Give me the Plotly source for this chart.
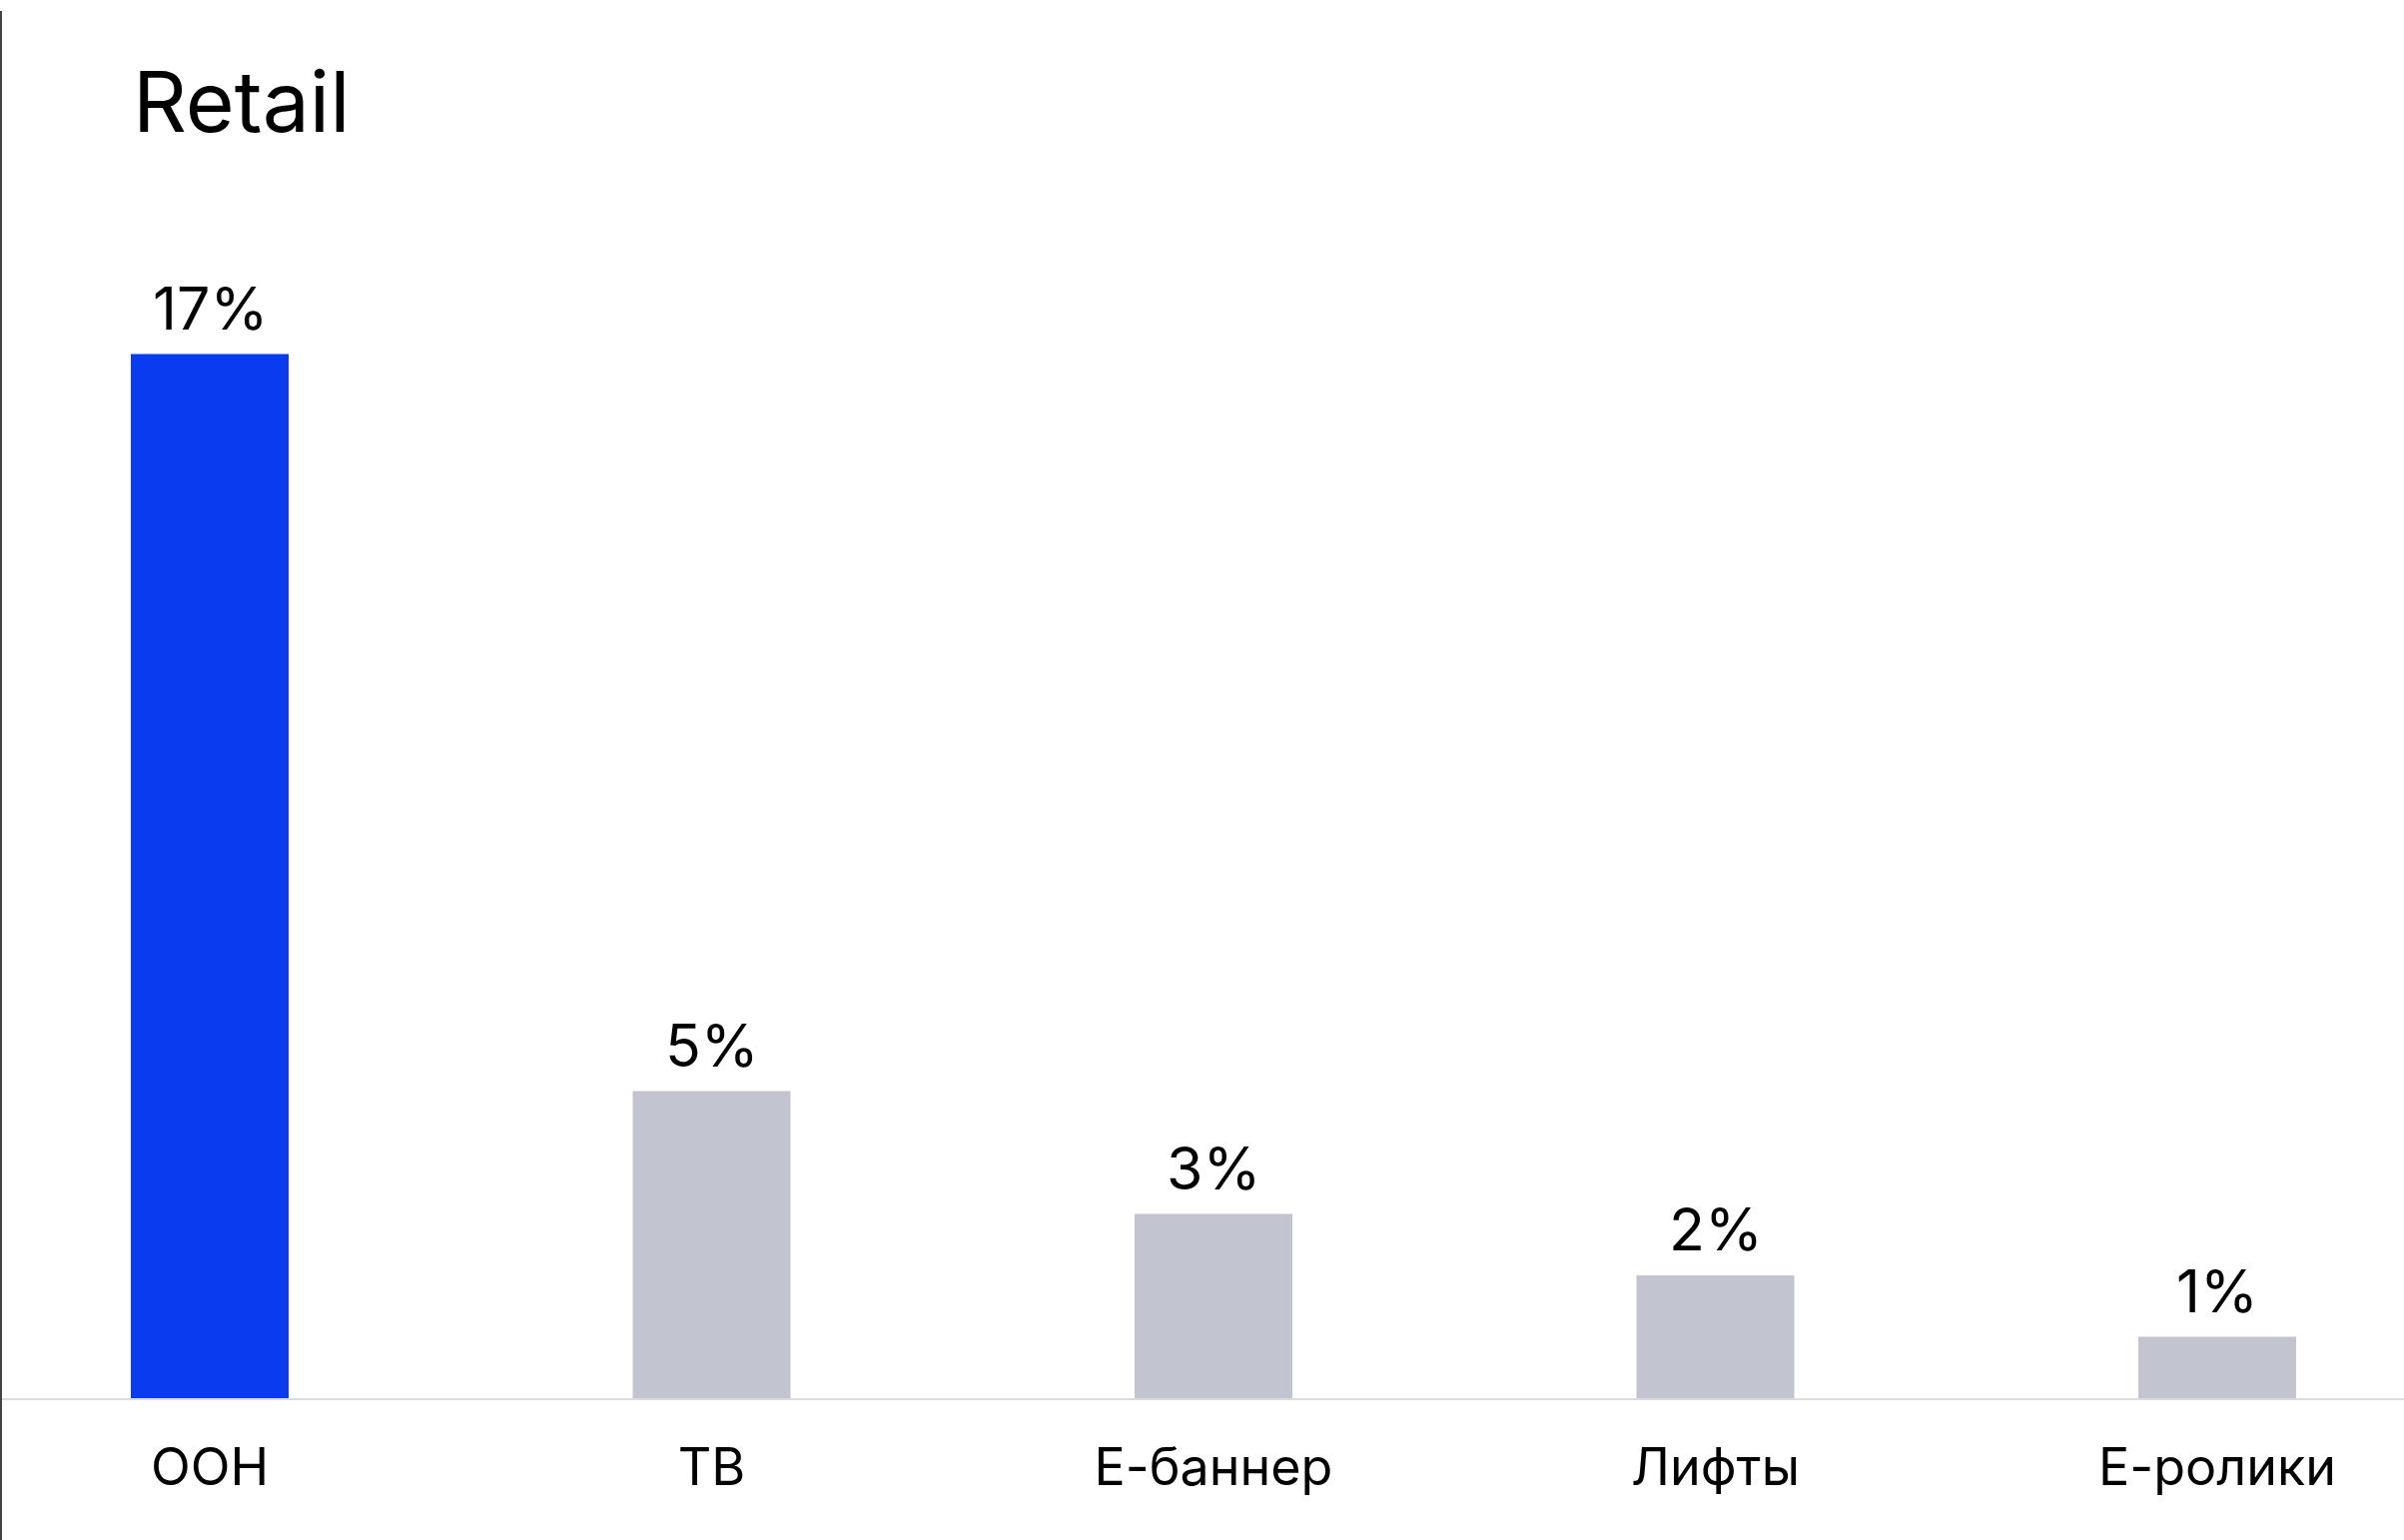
import plotly.graph_objects as go

categories = ["OOH", "ТВ", "Е-баннер", "Лифты", "Е-ролики"]
values = [17, 5, 3, 2, 1]
labels = ["17%", "5%", "3%", "2%", "1%"]
colors = ["#0a3bef", "#c2c4cf", "#c2c4cf", "#c2c4cf", "#c2c4cf"]

W, H = 2407, 1542
plot_bottom = 1400  # pixel of baseline
px_per_unit = 61.5
cat_step = 502.5
first_center = 210

x_idx = list(range(len(categories)))

fig = go.Figure(go.Bar(
    x=x_idx,
    y=values,
    width=158 / cat_step,
    marker=dict(color=colors, line=dict(width=0)),
    hoverinfo="skip",
))

x0 = -first_center / cat_step
x1 = (W - first_center) / cat_step
ytop = plot_bottom / px_per_unit

value_annotations = [
    dict(x=xi, y=v, xref="x", yref="y", text=t, showarrow=False,
         xanchor="center", yanchor="bottom", yshift=9,
         font=dict(family="Inter", size=59, color="#000000"))
    for xi, v, t in zip(x_idx, values, labels)
]

fig.update_layout(
    width=W, height=H,
    margin=dict(l=0, r=0, t=0, b=H - plot_bottom),
    paper_bgcolor="white", plot_bgcolor="white",
    showlegend=False,
    font=dict(family="Inter", color="#000000"),
    xaxis=dict(
        range=[x0, x1],
        tickmode="array", tickvals=x_idx, ticktext=categories,
        tickfont=dict(family="Inter", size=52, color="#000000"),
        showgrid=False, zeroline=False,
        showline=True, linecolor="#dddddd", linewidth=2,
        ticks="", ticklabelstandoff=23,
        fixedrange=True,
    ),
    yaxis=dict(
        range=[0, ytop], visible=False, showgrid=False, zeroline=False,
        fixedrange=True,
    ),
    annotations=value_annotations + [dict(
        text="Retail", xref="paper", yref="paper",
        x=131 / W, y=(plot_bottom - 102) / plot_bottom,
        xanchor="left", yanchor="middle", showarrow=False,
        font=dict(family="Inter", size=84, color="#000000"),
    )],
    shapes=[dict(
        type="line", xref="paper", yref="paper",
        x0=1 / W, x1=1 / W,
        y0=(plot_bottom - 11) / plot_bottom, y1=(plot_bottom - H) / plot_bottom,
        line=dict(color="#444444", width=2),
    )],
)

fig.write_html(
    "out.html",
    config={"displayModeBar": False},
    post_script="document.body.style.margin='0';document.body.style.padding='0';",
)
